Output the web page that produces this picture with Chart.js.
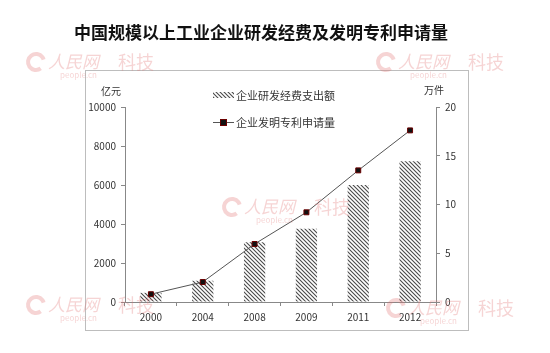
<!DOCTYPE html>
<html>
<head>
<meta charset="utf-8">
<script src="https://cdn.jsdelivr.net/npm/chart.js@4"></script>
<style>
  html, body { margin: 0; padding: 0; background: #fff; }
  #wrap { width: 550px; height: 353px; }
</style>
</head>
<body>
<div id="wrap"><canvas id="rdChart" width="550" height="353"></canvas></div>
<script>
// data
const years = ['2000', '2004', '2008', '2009', '2011', '2012'];
const rdSpend = [470, 1090, 3070, 3760, 6000, 7220];       // 亿元
const patentApps = [0.8, 2.05, 5.95, 9.2, 13.5, 17.6];     // 万件
const leftTicks = [0, 2000, 4000, 6000, 8000, 10000];
const rightTicks = [0, 5, 10, 15, 20];

const FONT = '"Noto Sans CJK SC", "Noto Sans", sans-serif';

// diagonal hatch for the bars
function hatch() {
  const c = document.createElement('canvas');
  c.width = 4; c.height = 4;
  const g = c.getContext('2d');
  g.fillStyle = '#fff';
  g.fillRect(0, 0, 4, 4);
  g.strokeStyle = '#4a4a4a';
  g.lineWidth = 1.1;
  g.beginPath();
  g.moveTo(-1, -1); g.lineTo(5, 5);
  g.moveTo(-1, 3); g.lineTo(1, 5);
  g.moveTo(3, -1); g.lineTo(5, 1);
  g.stroke();
  return g.createPattern(c, 'repeat');
}
const hatchFill = hatch();

// frame, title, unit labels, legend, watermarks
const decor = {
  id: 'decor',
  beforeDraw(chart) {
    const ctx = chart.ctx;
    ctx.save();
    ctx.fillStyle = '#fff';
    ctx.fillRect(0, 0, chart.width, chart.height);
    ctx.strokeStyle = '#bdbdbd';
    ctx.lineWidth = 1;
    ctx.strokeRect(85.5, 70.5, 383, 260);
    ctx.restore();
  },
  afterDraw(chart) {
    const ctx = chart.ctx;
    ctx.save();
    ctx.fillStyle = '#111';
    ctx.font = 'bold 17px ' + FONT;
    ctx.textAlign = 'center';
    ctx.textBaseline = 'middle';
    ctx.fillText('中国规模以上工业企业研发经费及发明专利申请量', 261, 33);

    ctx.font = '10px ' + FONT;
    ctx.fillStyle = '#333';
    ctx.fillText('亿元', 111, 91);
    ctx.fillText('万件', 434, 90);

    // legend
    const barDs = chart.data.datasets.find(d => d.type !== 'line');
    const lineDs = chart.data.datasets.find(d => d.type === 'line');
    ctx.textAlign = 'left';
    ctx.font = '11px ' + FONT;
    ctx.fillStyle = hatchFill;
    ctx.fillRect(213, 92, 21, 6);
    ctx.fillStyle = '#333';
    ctx.fillText(barDs.label, 236, 96);
    ctx.strokeStyle = '#555';
    ctx.beginPath();
    ctx.moveTo(213, 122.5); ctx.lineTo(234, 122.5);
    ctx.stroke();
    ctx.fillStyle = '#111';
    ctx.strokeStyle = '#6b0000';
    ctx.fillRect(220.5, 119.5, 6, 6);
    ctx.strokeRect(220.5, 119.5, 6, 6);
    ctx.fillStyle = '#333';
    ctx.fillText(lineDs.label, 236, 123);

    // 人民网 watermarks
    const marks = [[26, 62], [376, 62], [222, 207], [26, 305], [386, 308]];
    ctx.globalAlpha = 0.3;
    marks.forEach(([x, y]) => {
      ctx.strokeStyle = '#e07070';
      ctx.lineWidth = 4;
      ctx.beginPath();
      ctx.arc(x + 10, y, 8, 0.3 * Math.PI, 1.9 * Math.PI);
      ctx.stroke();
      ctx.fillStyle = '#e07070';
      ctx.font = 'italic 17px ' + FONT;
      ctx.fillText('人民网', x + 22, y);
      ctx.font = '18px ' + FONT;
      ctx.fillText('科技', x + 92, y);
      ctx.font = '8px ' + FONT;
      ctx.fillText('people.cn', x + 34, y + 13);
    });
    ctx.restore();
  }
};

new Chart(document.getElementById('rdChart'), {
  type: 'bar',
  data: {
    labels: years,
    datasets: [{
      type: 'line',
      label: '企业发明专利申请量',
      data: patentApps,
      yAxisID: 'y2',
      borderColor: '#555',
      borderWidth: 1,
      pointStyle: 'rect',
      pointRadius: 3.5,
      pointBackgroundColor: '#111',
      pointBorderColor: '#6b0000',
      pointBorderWidth: 1,
      tension: 0,
      order: 0
    }, {
      label: '企业研发经费支出额',
      data: rdSpend,
      yAxisID: 'y',
      backgroundColor: hatchFill,
      borderWidth: 0,
      categoryPercentage: 1,
      barPercentage: 0.41,
      order: 1
    }]
  },
  options: {
    responsive: false,
    animation: false,
    layout: { padding: { top: 107, bottom: 0, left: 0, right: 0 } },
    plugins: { legend: { display: false }, title: { display: false }, tooltip: { enabled: false } },
    scales: {
      x: {
        grid: { offset: true, drawOnChartArea: false, color: '#888', tickLength: 4 },
        border: { color: '#888' },
        ticks: { color: '#333', font: { family: FONT, size: 10 }, padding: 5 },
        afterFit(s) { s.height = 51; }
      },
      y: {
        position: 'left',
        min: 0, max: 10000,
        afterBuildTicks(s) { s.ticks = leftTicks.map(v => ({ value: v })); },
        grid: { drawOnChartArea: false, color: '#888', tickLength: 4 },
        border: { color: '#888' },
        ticks: { color: '#333', font: { family: FONT, size: 10 }, padding: 5, callback: v => String(v) },
        afterFit(s) { s.width = 125; }
      },
      y2: {
        position: 'right',
        min: 0, max: 20,
        afterBuildTicks(s) { s.ticks = rightTicks.map(v => ({ value: v })); },
        grid: { drawOnChartArea: false, color: '#888', tickLength: 4 },
        border: { color: '#888' },
        ticks: { color: '#333', font: { family: FONT, size: 10 }, padding: 5, callback: v => String(v) },
        afterFit(s) { s.width = 114; }
      }
    }
  },
  plugins: [decor]
});
</script>
</body>
</html>
